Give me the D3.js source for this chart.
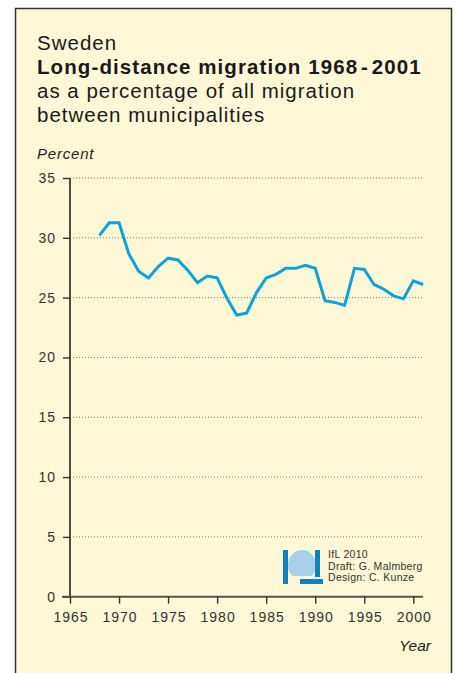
<!DOCTYPE html>
<html>
<head>
<meta charset="utf-8">
<script src="https://cdn.jsdelivr.net/npm/d3@7"></script>
<style>
  body { margin: 0; background: #fff; }
  svg { display: block; font-family: "Liberation Sans", Arial, sans-serif; }
</style>
</head>
<body>
<div id="chart"></div>
<script>
// data
var years = [1968, 1969, 1970, 1971, 1972, 1973, 1974, 1975, 1976, 1977, 1978, 1979, 1980,
             1981, 1982, 1983, 1984, 1985, 1986, 1987, 1988, 1989, 1990, 1991, 1992, 1993,
             1994, 1995, 1996, 1997, 1998, 1999, 2000, 2001];
var percent = [30.2, 31.25, 31.25, 28.65, 27.2, 26.65, 27.6, 28.3, 28.15, 27.3, 26.25, 26.8, 26.65,
               24.95, 23.55, 23.7, 25.4, 26.65, 26.95, 27.45, 27.45, 27.7, 27.45, 24.75, 24.6, 24.35,
               27.45, 27.35, 26.1, 25.7, 25.15, 24.9, 26.4, 26.1];
var yTicks = [0, 5, 10, 15, 20, 25, 30, 35];
var xTicks = [1965, 1970, 1975, 1980, 1985, 1990, 1995, 2000];
var titleLines = ["Sweden", "Long-distance migration 1968\u200a-\u200a2001",
                  "as a percentage of all migration", "between municipalities"];
var creditLines = ["IfL 2010", "Draft: G. Malmberg", "Design: C. Kunze"];

var width = 457, height = 673;

var svg = d3.select("#chart").append("svg")
  .attr("width", width)
  .attr("height", height);

// panel
svg.append("rect")
  .attr("x", 15.5).attr("y", 8.5)
  .attr("width", 436).attr("height", 680)
  .attr("fill", "#fef8d6")
  .attr("stroke", "#333")
  .attr("stroke-width", 1.5);

// titles
var title = svg.append("g").attr("fill", "#1a1a1a");
title.selectAll("text").data(titleLines).enter().append("text")
  .attr("x", 37)
  .attr("y", function(d, i) { return [50, 74, 98, 122][i]; })
  .attr("font-size", 20.5)
  .attr("letter-spacing", function(d, i) { return i == 1 ? 1.1 : 1.0; })
  .attr("font-weight", function(d, i) { return i == 1 ? "bold" : "normal"; })
  .text(function(d) { return d; });

svg.append("text")
  .attr("x", 37).attr("y", 159)
  .attr("font-size", 15)
  .attr("letter-spacing", 0.8)
  .attr("font-style", "italic")
  .attr("fill", "#222")
  .text("Percent");

var x = d3.scaleLinear().domain([1965, 2000]).range([70, 413.3]);
var y = d3.scaleLinear().domain([0, 35]).range([596.7, 178]);

// dotted grid
svg.append("g").selectAll("line")
  .data(yTicks.filter(function(d) { return d > 0; }))
  .enter().append("line")
  .attr("x1", 73).attr("x2", x(2001))
  .attr("y1", function(d) { return y(d); })
  .attr("y2", function(d) { return y(d); })
  .attr("stroke", "#777")
  .attr("stroke-width", 1)
  .attr("stroke-dasharray", "1,2");

// y axis
var yAxis = svg.append("g")
  .attr("transform", "translate(70,0)")
  .call(d3.axisLeft(y).tickValues(yTicks).tickSize(7).tickPadding(7));
yAxis.select(".domain").attr("stroke", "#222").attr("stroke-width", 1.6)
  .attr("d", "M0," + y(35) + "V" + y(0));
yAxis.selectAll(".tick line").attr("stroke", "#333").attr("stroke-width", 1.4);
yAxis.selectAll("text")
  .attr("font-size", 14).attr("fill", "#333").attr("letter-spacing", 1)
  .attr("font-family", "Liberation Sans, Arial, sans-serif");

// x axis
var xAxis = svg.append("g")
  .attr("transform", "translate(0," + y(0) + ")")
  .call(d3.axisBottom(x).tickValues(xTicks).tickFormat(d3.format("d")).tickSize(7).tickPadding(8));
xAxis.select(".domain").attr("stroke", "#555").attr("stroke-width", 2)
  .attr("d", "M" + (x(1965) - 8) + ",0H" + x(2001));
xAxis.selectAll(".tick line").attr("stroke", "#333").attr("stroke-width", 1.4);
xAxis.selectAll("text")
  .attr("font-size", 14).attr("fill", "#333").attr("letter-spacing", 1)
  .attr("dx", 0.5)
  .attr("font-family", "Liberation Sans, Arial, sans-serif");

svg.append("text")
  .attr("x", 431).attr("y", 651)
  .attr("text-anchor", "end")
  .attr("font-size", 15.5)
  .attr("font-style", "italic")
  .attr("fill", "#222")
  .text("Year");

// the line
var line = d3.line()
  .x(function(d, i) { return x(years[i]); })
  .y(function(d) { return y(d); });

svg.append("path")
  .datum(percent)
  .attr("d", line)
  .attr("fill", "none")
  .attr("stroke", "#0ea3d8")
  .attr("stroke-width", 3)
  .attr("stroke-linejoin", "miter");

// logo + credits
var logo = svg.append("g");
logo.append("ellipse")
  .attr("cx", 302).attr("cy", 565).attr("rx", 14).attr("ry", 15)
  .attr("fill", "#a9cfe9");
logo.append("rect").attr("x", 290).attr("y", 576).attr("width", 26).attr("height", 9).attr("fill", "#fef8d6");
logo.append("rect").attr("x", 283).attr("y", 550).attr("width", 5).attr("height", 34).attr("fill", "#1182bd");
logo.append("rect").attr("x", 315).attr("y", 550).attr("width", 5).attr("height", 27).attr("fill", "#1182bd");
logo.append("rect").attr("x", 300).attr("y", 579).attr("width", 23).attr("height", 5).attr("fill", "#1182bd");

svg.append("g").selectAll("text").data(creditLines).enter().append("text")
  .attr("x", 328)
  .attr("y", function(d, i) { return 558 + i * 11.5; })
  .attr("font-size", 10.5)
  .attr("letter-spacing", 0.3)
  .attr("fill", "#333")
  .text(function(d) { return d; });
</script>
</body>
</html>
